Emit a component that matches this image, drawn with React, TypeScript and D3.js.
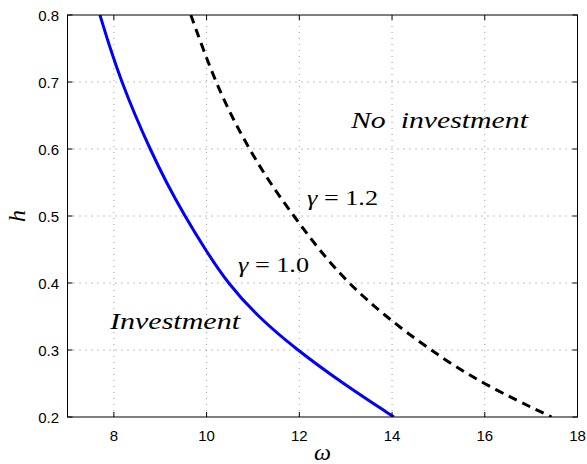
import React from "react";
import * as d3 from "d3";

const hValues = [0.8, 0.75, 0.7, 0.65, 0.6, 0.55, 0.5, 0.45, 0.4, 0.35, 0.3, 0.25, 0.2];
const omegaGamma10 = [7.7, 7.92, 8.17, 8.46, 8.78, 9.13, 9.53, 9.97, 10.45, 11.1, 11.95, 12.94, 14.04];
const omegaGamma12 = [9.66, 9.92, 10.2, 10.53, 10.92, 11.36, 11.88, 12.42, 13.05, 13.86, 14.82, 15.93, 17.44];
const xTicks = [8, 10, 12, 14, 16, 18];
const yTicks = [0.2, 0.3, 0.4, 0.5, 0.6, 0.7, 0.8];

const W = 587;
const H = 464;
const M = { left: 67.5, right: 9.5, top: 15, bottom: 47 };

export default function App() {
  const x = d3.scaleLinear().domain([7, 18]).range([M.left, W - M.right]);
  const y = d3.scaleLinear().domain([0.2, 0.8]).range([H - M.bottom, M.top]);
  const line = d3
    .line<[number, number]>()
    .x((d) => x(d[0]))
    .y((d) => y(d[1]))
    .curve(d3.curveBasis);
  const s10 = hValues.map((h, i) => [omegaGamma10[i], h] as [number, number]);
  const s12 = hValues.map((h, i) => [omegaGamma12[i], h] as [number, number]);
  const x0 = M.left, x1 = W - M.right, y0 = H - M.bottom, y1 = M.top;
  const serif = "'Liberation Serif', 'DejaVu Serif', serif";
  const sans = "'Liberation Sans', Arial, sans-serif";
  return (
    <svg width={W} height={H} style={{ position: "absolute", left: 0, top: 0, background: "#fff" }}>
      <defs>
        <clipPath id="plot">
          <rect x={x0} y={y1} width={x1 - x0} height={y0 - y1} />
        </clipPath>
      </defs>
      {/* grid */}
      {xTicks.filter((t) => t < 18).map((t) => (
        <line key={"gx" + t} x1={x(t)} x2={x(t)} y1={y0} y2={y1} stroke="#a0a0a0" strokeWidth={1} strokeDasharray="1,5" />
      ))}
      {yTicks.filter((t) => t > 0.2 && t < 0.8).map((t) => (
        <line key={"gy" + t} x1={x0} x2={x1} y1={y(t)} y2={y(t)} stroke="#808080" strokeWidth={1} strokeDasharray="1,5" />
      ))}
      {/* curves */}
      <g clipPath="url(#plot)">
        <path d={line(s10) || ""} fill="none" stroke="#0000ff" strokeWidth={3} />
        <path d={line(s12) || ""} fill="none" stroke="#000" strokeWidth={3} strokeDasharray="9,6" />
      </g>
      {/* box */}
      <rect x={x0} y={y1} width={x1 - x0} height={y0 - y1} fill="none" stroke="#000" strokeWidth={1} />
      {/* ticks */}
      {xTicks.map((t) => (
        <g key={"tx" + t}>
          <line x1={x(t)} x2={x(t)} y1={y0} y2={y0 - 5} stroke="#000" />
          <line x1={x(t)} x2={x(t)} y1={y1} y2={y1 + 5} stroke="#000" />
          <text x={x(t)} y={441} textAnchor="middle" fontFamily={sans} fontSize={15} fill="#000">
            {t}
          </text>
        </g>
      ))}
      {yTicks.map((t) => (
        <g key={"ty" + t}>
          <line x1={x0} x2={x0 + 5} y1={y(t)} y2={y(t)} stroke="#000" />
          <line x1={x1} x2={x1 - 5} y1={y(t)} y2={y(t)} stroke="#000" />
          <text x={59} y={y(t) + 5.5} textAnchor="end" fontFamily={sans} fontSize={15} fill="#000">
            {t.toFixed(1)}
          </text>
        </g>
      ))}
      {/* axis labels */}
      <text x={(x0 + x1) / 2} y={460} textAnchor="middle" fontFamily={serif} fontStyle="italic" fontSize={24} fill="#000">
        ω
      </text>
      <text transform={`translate(25, ${(y0 + y1) / 2}) rotate(-90)`} textAnchor="middle" fontFamily={serif} fontStyle="italic" fontSize={24} fill="#000">
        h
      </text>
      {/* annotations */}
      <text x={351} y={128} fontFamily={serif} fontStyle="italic" fontSize={23} fill="#000" textLength={177} lengthAdjust="spacingAndGlyphs">
        {"No\u00A0\u00A0investment"}
      </text>
      <text x={110} y={329} fontFamily={serif} fontStyle="italic" fontSize={24} fill="#000" textLength={130} lengthAdjust="spacingAndGlyphs">
        Investment
      </text>
      <text x={307} y={205} fontFamily={serif} fontSize={21} fill="#000" textLength={71} lengthAdjust="spacingAndGlyphs">
        <tspan fontStyle="italic">γ</tspan> = 1.2
      </text>
      <text x={238} y={272} fontFamily={serif} fontSize={21} fill="#000" textLength={71} lengthAdjust="spacingAndGlyphs">
        <tspan fontStyle="italic">γ</tspan> = 1.0
      </text>
    </svg>
  );
}
